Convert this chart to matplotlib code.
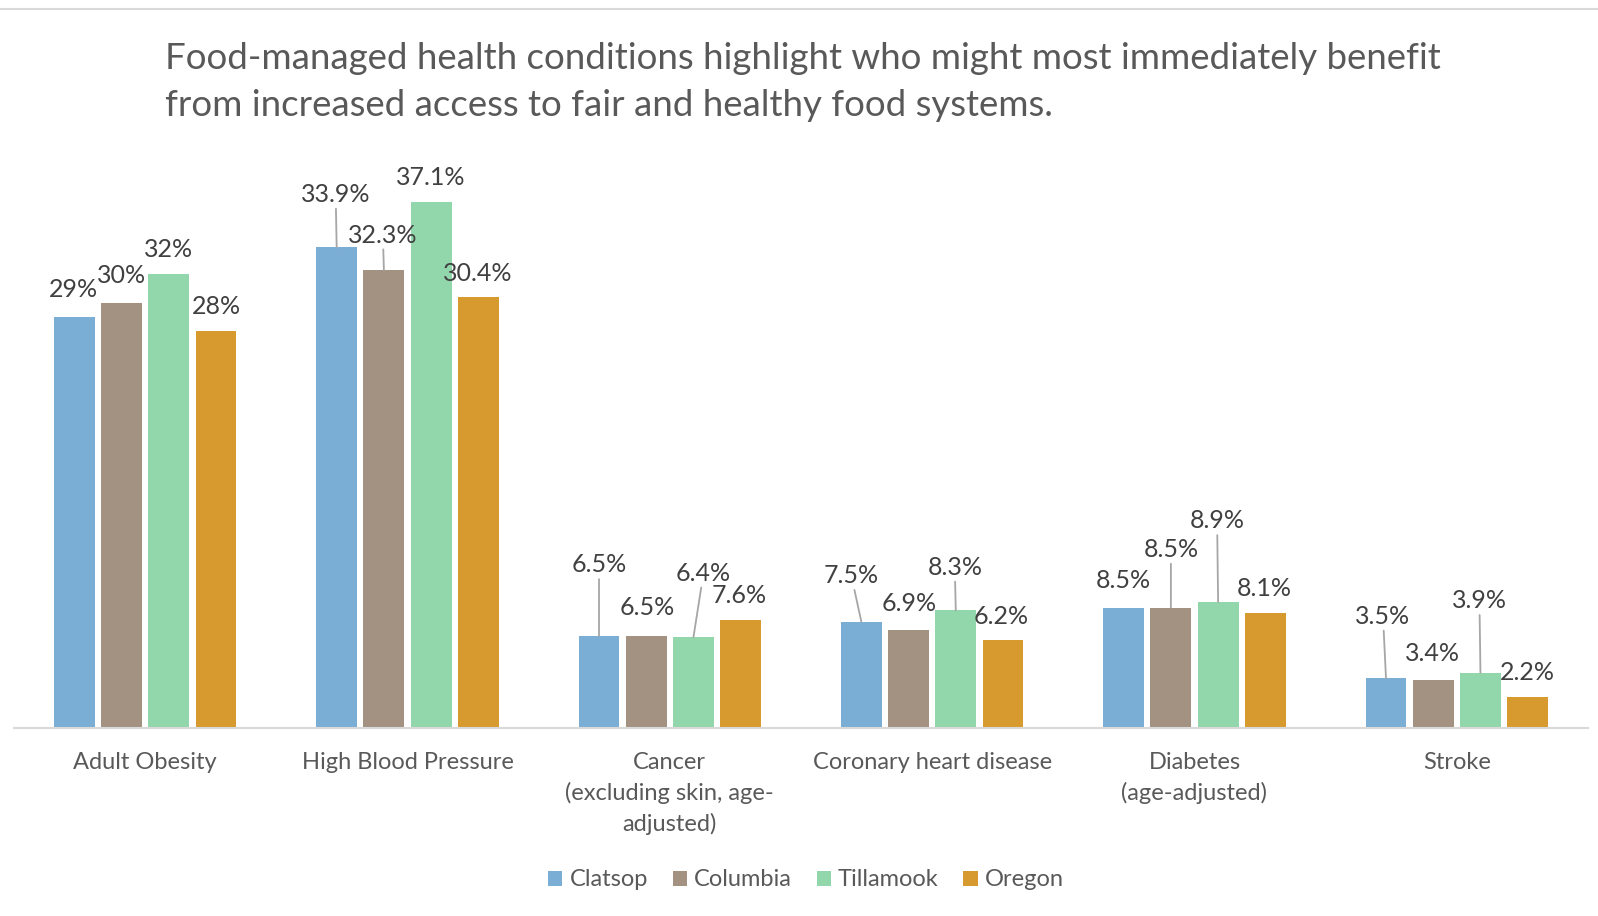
import matplotlib.pyplot as plt
import numpy as np

plt.rcParams['font.family'] = ['Lato', 'DejaVu Sans']

categories = ["Adult Obesity", "High Blood Pressure",
              "Cancer\n(excluding skin, age-\nadjusted)",
              "Coronary heart disease", "Diabetes\n(age-adjusted)", "Stroke"]
counties = ["Clatsop", "Columbia", "Tillamook", "Oregon"]
clatsop = [29, 33.9, 6.5, 7.5, 8.5, 3.5]
columbia = [30, 32.3, 6.5, 6.9, 8.5, 3.4]
tillamook = [32, 37.1, 6.4, 8.3, 8.9, 3.9]
oregon = [28, 30.4, 7.6, 6.2, 8.1, 2.2]
series = [clatsop, columbia, tillamook, oregon]
colors = ["#7BAED4", "#A39281", "#92D6AC", "#D69A2E"]

# label placement relative to the bar top, in pixels: (dx, dy, leader line)
label_pos = [
    [(-1, 27, 0), (-1, 53, 1), (0, 71, 1), (-10, 46, 1), (0, 27, 0), (-3, 62, 1)],
    [(0, 27, 0), (-1, 35, 1), (1, 28, 0), (1, 27, 0), (0, 58, 1), (-1, 26, 0)],
    [(0, 25, 0), (0, 25, 0), (10, 64, 1), (-1, 43, 1), (-1, 81, 1), (-1, 72, 1)],
    [(0, 25, 0), (-1, 24, 0), (-1, 25, 0), (-2, 24, 0), (-1, 25, 0), (0, 24, 0)],
]

fig = plt.figure(figsize=(15.98, 9.16), dpi=100)
ax = fig.add_axes([14 / 1598, 188 / 916, 1574 / 1598, 567 / 916])

x = np.arange(len(categories))
pitch = 0.18
width = 0.156
bars = []
for i, (vals, col) in enumerate(zip(series, colors)):
    xs = x + (i - 1.5) * pitch
    b = ax.bar(xs, vals, width, color=col, label=counties[i])
    bars.append(b)
    for j, v in enumerate(vals):
        dx, dy, lead = label_pos[i][j]
        arrow = None
        if lead:
            arrow = dict(arrowstyle='-', color='#A6A6A6', lw=1.3,
                         shrinkA=0, shrinkB=0)
        ax.annotate(f"{v:g}%", xy=(xs[j], v), xytext=(dx, dy),
                    textcoords='offset pixels', ha='center', va='center',
                    fontsize=18, color='#404040', arrowprops=arrow)

ax.set_xlim(-0.5, 5.5)
ax.set_ylim(0, 40)
ax.set_yticks([])
ax.set_xticks(x)
ax.set_xticklabels(categories, fontsize=17, color='#595959', linespacing=1.5)
ax.tick_params(axis='x', length=0, pad=17)
for s in ['top', 'left', 'right']:
    ax.spines[s].set_visible(False)
ax.spines['bottom'].set_color('#D9D9D9')
ax.spines['bottom'].set_linewidth(1.5)

title_lines = ["Food-managed health conditions highlight who might most immediately benefit",
               "from increased access to fair and healthy food systems."]
for k, line in enumerate(title_lines):
    fig.text(165 / 1598, 1 - (69 + 47 * k) / 916, line, fontsize=26.4,
             color='#595959', va='baseline', ha='left')

# thin border line across the top of the chart area
fig.add_artist(plt.Line2D([0, 1], [1 - 9 / 916, 1 - 9 / 916], color='#D9D9D9',
                          lw=1.5, transform=fig.transFigure))

fig.legend(handles=bars, labels=counties, loc='center',
           bbox_to_anchor=(806 / 1598, 36 / 916), ncol=4, frameon=False,
           fontsize=17, labelcolor='#595959', handlelength=0.6,
           handleheight=0.6, handletextpad=0.3, columnspacing=1.05)

fig.savefig('out.png', dpi=100)
